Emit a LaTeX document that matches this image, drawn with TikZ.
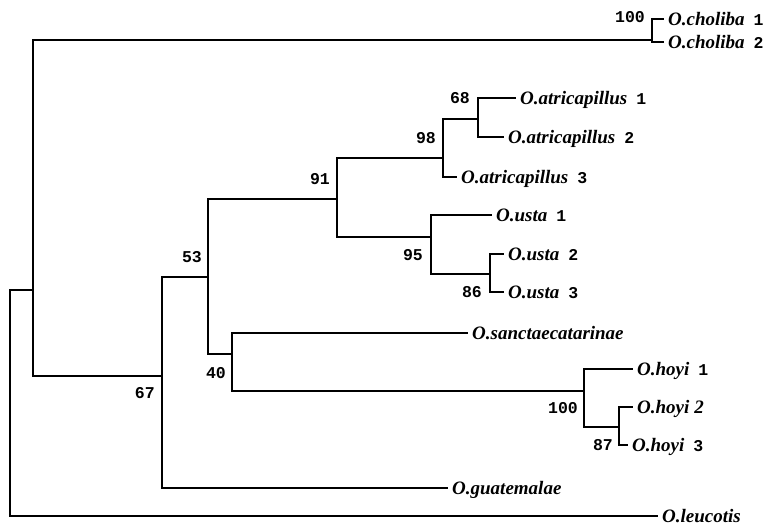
\documentclass[tikz,border=0pt]{standalone}
\usepackage{fontspec}
\setmainfont{Liberation Serif}
\newfontfamily\numfont{Liberation Mono}
\usepackage{tikz}
\usetikzlibrary{positioning,calc}
\newcommand{\taxonfont}{\fontsize{19}{22}\selectfont\bfseries\itshape}
\newcommand{\supportfont}{\fontsize{16.5}{19}\selectfont\numfont\bfseries\upshape}
\newcommand{\tnum}[1]{\hspace{9pt}{\supportfont #1}}
\tikzset{
	branch/.style={line width=1.3pt, line cap=rect},
	taxon/.style={anchor=west, inner xsep=5pt, inner ysep=0pt,
		text height=12pt, text depth=0pt, font=\taxonfont},
	support/.style={anchor=east, inner sep=0pt, font=\supportfont}
}

\begin{document}
\begin{tikzpicture}[x=1pt, y=-1pt]
	\useasboundingbox (0,0) rectangle (775,528);
	
	%% -- Inner nodes of the tree
	\coordinate (root) at (10,400);
	\coordinate (nA) at (33,290);
	\coordinate (n100c) at (652,40);
	\coordinate (n67) at (162,376);
	\coordinate (n53) at (208,277);
	\coordinate (n91) at (337,199);
	\coordinate (n98) at (443,158);
	\coordinate (n68) at (478,119);
	\coordinate (n95) at (431,237);
	\coordinate (n86) at (490,274);
	\coordinate (n40) at (232,354);
	\coordinate (n100h) at (584,391);
	\coordinate (n87) at (619,427);
	
	%% -- Taxa
	\node[taxon] (c1) at (663,19) {O.choliba\tnum{1}};
	\node[taxon] (c2) at (663,42) {O.choliba\tnum{2}};
	\node[taxon] (a1) at (515,98) {O.atricapillus\tnum{1}};
	\node[taxon] (a2) at (503,137) {O.atricapillus\tnum{2}};
	\node[taxon] (a3) at (456,177) {O.atricapillus\tnum{3}};
	\node[taxon] (u1) at (491,215) {O.usta\tnum{1}};
	\node[taxon] (u2) at (503,254) {O.usta\tnum{2}};
	\node[taxon] (u3) at (503,292) {O.usta\tnum{3}};
	\node[taxon] (sa) at (467,333) {O.sanctaecatarinae};
	\node[taxon] (h1) at (632,369) {O.hoyi\tnum{1}};
	\node[taxon] (h2) at (632,407) {O.hoyi\hspace{5pt}2};
	\node[taxon] (h3) at (627,445) {O.hoyi\tnum{3}};
	\node[taxon] (gu) at (447,488) {O.guatemalae};
	\node[taxon] (le) at (657,516) {O.leucotis};
	
	%% -- Branches: O. choliba
	\draw[branch] (root) |- (nA);
	\draw[branch] (root) |- (le.west);
	\draw[branch] (nA) |- (n100c);
	\draw[branch] (n100c) |- (c1.west);
	\draw[branch] (n100c) |- (c2.west);
	
	%% -- Branches: ingroup
	\draw[branch] (nA) |- (n67);
	\draw[branch] (n67) |- (n53);
	\draw[branch] (n67) |- (gu.west);
	\draw[branch] (n53) |- (n91);
	\draw[branch] (n53) |- (n40);
	
	%% -- Branches: O. atricapillus and O. usta
	\draw[branch] (n91) |- (n98);
	\draw[branch] (n91) |- (n95);
	\draw[branch] (n98) |- (n68);
	\draw[branch] (n98) |- (a3.west);
	\draw[branch] (n68) |- (a1.west);
	\draw[branch] (n68) |- (a2.west);
	\draw[branch] (n95) |- (u1.west);
	\draw[branch] (n95) |- (n86);
	\draw[branch] (n86) |- (u2.west);
	\draw[branch] (n86) |- (u3.west);
	
	%% -- Branches: O. sanctaecatarinae and O. hoyi
	\draw[branch] (n40) |- (sa.west);
	\draw[branch] (n40) |- (n100h);
	\draw[branch] (n100h) |- (h1.west);
	\draw[branch] (n100h) |- (n87);
	\draw[branch] (n87) |- (h2.west);
	\draw[branch] (n87) |- (h3.west);
	
	%% -- Bootstrap values
	\node[support] (s100c) at (645,17) {100};
	\node[support] (s68) at (470,98) {68};
	\node[support] (s98) at (436,138) {98};
	\node[support] (s91) at (330,179) {91};
	\node[support] (s95) at (423,255) {95};
	\node[support] (s86) at (482,292) {86};
	\node[support] (s53) at (202,257) {53};
	\node[support] (s40) at (226,373) {40};
	\node[support] (s100h) at (578,408) {100};
	\node[support] (s87) at (613,445) {87};
	\node[support] (s67) at (155,393) {67};
	
\end{tikzpicture}
\end{document}
